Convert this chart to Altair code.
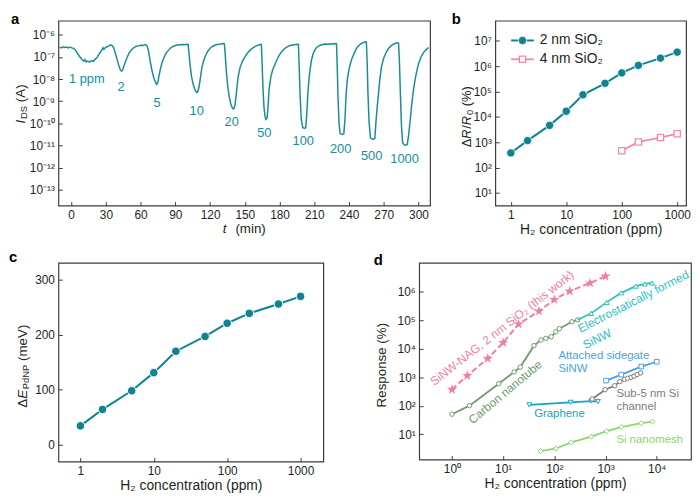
import altair as alt
import pandas as pd

FONT = "Liberation Sans"
INK = "#231f20"
FRAME = "#3d3d3d"
TEAL_A = "#198d97"
TEAL = "#0f8490"
PINK_B = "#f18aa9"
PINK_D = "#f27ea0"
GREEN_CNT = "#6e9c6c"
CYAN_EF = "#2cbfc3"
BLUE_AS = "#4b9fe6"
GRAY_S5 = "#7b7b7b"
TEAL_GR = "#10a5c2"
LGREEN = "#8cd66e"

# ---------------- panel a data ----------------
t_min = [-10, -8.5, -7, -5.5, -4, -2.5, -1, 0.5, 2, 3.5, 5, 6.5, 8, 9.5, 11, 12, 13, 14.5, 16, 17.5, 19, 20.5,
         22, 23.5, 25, 26.5, 27.5, 28.3, 29.5, 31, 32.5, 34, 35,
         36.5, 38, 39.5, 41, 42.5, 43.5, 44.5, 45.5, 47, 48.5, 50, 52, 54, 56, 58, 60, 62, 63.5, 64.5,
         65.5, 66.5, 67.5, 68.5, 70, 71.5, 73, 74, 75, 76, 77.3, 78.5, 80, 82, 84, 86, 88, 90, 92, 94, 96, 98, 100, 101,
         101.8, 102.8, 104, 105.5, 107, 108.3, 109.3, 110.5, 111.8, 113, 114.5, 116, 118, 120, 122, 124, 126, 128, 130, 131.5, 132.3,
         133, 134, 135.2, 136.5, 138, 139.5, 140.5, 141.5, 142.5, 143.5, 144.5, 146, 148, 150, 152, 154, 156, 158, 160, 162, 163.7, 164.3,
         165, 165.8, 166.6, 167.5, 168.3, 169.2, 170, 171, 172.5, 174, 175.5, 177.5, 179.5, 181.5, 184, 186.5, 189, 191.5, 194, 196.3,
         197, 197.8, 198.8, 200, 201.3, 202.6, 203.5, 204.5, 205.5, 206.5, 207.5, 209, 210.5, 212, 214, 216, 218, 220, 222, 224, 226, 228, 229.2,
         229.8, 230.5, 231.4, 232.3, 234, 235.5, 236.5, 237.5, 238.5, 240, 241.5, 243, 245, 247, 249, 251, 253, 254.3, 255,
         255.7, 256.4, 257.3, 258.5, 260.5, 262.3, 263.3, 264.4, 265.4, 266.5, 268, 270, 272, 274, 276, 278, 280, 281.5, 282.8,
         283.6, 284.4, 285.3, 286.3, 288.3, 290.3, 291.5, 292.8, 294, 295.5, 297, 298.5, 300, 302, 304, 306, 308.6]
i_ds = [2.8e-7, 2.6e-7, 2.9e-7, 2.7e-7, 2.8e-7, 2.6e-7, 2.8e-7, 2.6e-7, 2.5e-7, 2.1e-7, 1.6e-7, 1.2e-7, 9.5e-8, 7.5e-8, 6.5e-8, 7.6e-8,
        6.0e-8, 6.6e-8, 5.9e-8, 6.8e-8, 6.4e-8, 7.8e-8, 9.0e-8, 1.2e-7, 1.6e-7, 2.1e-7, 2.6e-7, 2.2e-7, 2.7e-7, 2.9e-7, 3.2e-7, 3.5e-7, 3.4e-7,
        2.8e-7, 1.6e-7, 8.5e-8, 4.5e-8, 2.6e-8, 2.3e-8, 2.6e-8, 3.8e-8, 6.5e-8, 1.0e-7, 1.5e-7, 2.1e-7, 2.6e-7, 3.0e-7, 3.2e-7, 3.4e-7, 3.3e-7, 3.6e-7, 3.6e-7,
        3.2e-7, 2.2e-7, 1.2e-7, 5.5e-8, 2.2e-8, 1.1e-8, 6.8e-9, 5.8e-9, 7.5e-9, 1.5e-8, 3.2e-8, 5.5e-8, 9.0e-8, 1.5e-7, 2.0e-7, 2.6e-7, 3.0e-7, 3.3e-7, 3.5e-7, 3.6e-7, 3.7e-7, 3.6e-7, 3.8e-7, 3.7e-7,
        1.5e-7, 4e-8, 1.3e-8, 5.5e-9, 3.2e-9, 2.5e-9, 2.6e-9, 4.5e-9, 1.3e-8, 3.5e-8, 7e-8, 1.15e-7, 1.8e-7, 2.5e-7, 3.0e-7, 3.4e-7, 3.7e-7, 3.8e-7, 4.0e-7, 4.1e-7, 4.0e-7,
        1.5e-7, 2.5e-8, 5e-9, 1.6e-9, 7e-10, 4.6e-10, 4.5e-10, 6.5e-10, 1.8e-9, 6e-9, 1.5e-8, 3.5e-8, 6.5e-8, 1.0e-7, 1.45e-7, 1.9e-7, 2.4e-7, 2.8e-7, 3.2e-7, 3.5e-7, 3.8e-7, 3.7e-7,
        4e-8, 3e-9, 5e-10, 2e-10, 1.5e-10, 1.7e-10, 5e-10, 3.5e-9, 1.3e-8, 2.6e-8, 4e-8, 7e-8, 1.15e-7, 1.65e-7, 2.3e-7, 2.9e-7, 3.3e-7, 3.5e-7, 3.7e-7, 3.8e-7,
        3e-8, 1.5e-9, 1.5e-10, 6.5e-11, 6e-11, 6.2e-11, 2.5e-10, 2.5e-9, 1.1e-8, 3e-8, 7e-8, 1.4e-7, 2.1e-7, 2.7e-7, 3.2e-7, 3.5e-7, 3.8e-7, 3.9e-7, 3.8e-7, 4.0e-7, 3.9e-7, 4.1e-7, 4.0e-7,
        4e-8, 1.5e-9, 1e-10, 3.5e-11, 3.1e-11, 3.3e-11, 1.5e-10, 2e-9, 9e-9, 2.8e-8, 5.8e-8, 1.0e-7, 1.7e-7, 2.7e-7, 3.5e-7, 4.2e-7, 4.7e-7, 4.9e-7, 4.8e-7,
        5e-8, 2e-9, 1.2e-10, 2.2e-11, 1.9e-11, 2.0e-11, 1.2e-10, 6e-10, 2e-9, 9e-9, 3.5e-8, 9e-8, 1.6e-7, 2.4e-7, 3.1e-7, 3.7e-7, 4.2e-7, 4.4e-7, 4.3e-7,
        5e-8, 2e-9, 8e-11, 1.3e-11, 1.0e-11, 1.1e-11, 3e-11, 1.3e-10, 6e-10, 2.8e-9, 9e-9, 2.3e-8, 4.8e-8, 9.5e-8, 1.5e-7, 2.0e-7, 2.7e-7]
step_labels = ["1 ppm", "2", "5", "10", "20", "50", "100", "200", "500", "1000"]
step_label_t = [13.5, 43.2, 74.1, 108.4, 138.7, 166.8, 200.5, 232.8, 259.5, 288]
step_label_i = [1e-8, 4.4e-9, 8.5e-10, 3.7e-10, 1.17e-10, 3.7e-11, 1.6e-11, 6.8e-12, 3.2e-12, 2.5e-12]

# ---------------- panel b / c data ----------------
conc = [1, 2, 5, 10, 20, 50, 100, 200, 500, 1000]
resp_2nm = [375, 1150, 4600, 16600, 74000, 210000, 540000, 1.07e6, 2.05e6, 3.55e6]
conc_4nm = [100, 200, 500, 1000]
resp_4nm = [455, 1020, 1520, 2150]
de_pdnp = [34, 64, 98, 131, 170, 197, 221, 239, 256, 270]

# ---------------- panel d data ----------------
cnt_x = [1, 2.2, 8.2, 16.4, 21.6, 40, 55, 68, 87, 107, 125, 220, 286]
cnt_y = [51, 102, 600, 1550, 2300, 13000, 20600, 23400, 26700, 39600, 51000, 90000, 105000]
ef_line_x = [286, 525, 1050, 2030, 3900, 5870, 8100]
ef_line_y = [105000, 177000, 430000, 930000, 1.6e6, 1.9e6, 2.06e6]
ef_x = [525, 1050, 2030, 3900, 5870, 8100]
ef_y = [177000, 430000, 930000, 1.6e6, 1.9e6, 2.06e6]
as_x = [1025, 2030, 4990, 10000]
as_y = [770, 1250, 2400, 3540]
s5_x = [550, 980, 1510, 1900, 2350, 2700, 3150, 3600, 4150, 4870]
s5_y = [175, 370, 510, 710, 850, 930, 1000, 1100, 1260, 1440]
gr_x = [32.5, 208, 527, 712]
gr_y = [108, 133, 148, 142]
nm_x = [54, 108, 214, 527, 1050, 2030, 5000, 8300]
nm_y = [2.6, 3.2, 5.2, 8.3, 12.9, 18.1, 24.6, 28]

ann_text = ["SiNW-NAG, 2 nm SiO\u2082 (this work)", "Carbon nanotube", "Electrostatically formed", "SiNW"]
ann_x = [9.5, 11, 3500, 685]
ann_y = [53800, 305, 460000, 22400]
ann_angle = [322, 320, 333, 333]
ann_color = [PINK_D, GREEN_CNT, CYAN_EF, CYAN_EF]
lab_text = ["Attached sidegate", "SiNW", "Sub-5 nm Si", "channel", "Graphene", "Si nanomesh"]
lab_x = [120, 120, 1636, 1636, 40.4, 1636]
lab_y = [5500, 1900, 265, 88, 50, 6.3]
lab_color = [BLUE_AS, BLUE_AS, GRAY_S5, GRAY_S5, TEAL_GR, LGREEN]

STAR = ("M0,-1 L0.2245,-0.309 L0.9511,-0.309 L0.3633,0.118 L0.5878,0.809 L0,0.382 "
        "L-0.5878,0.809 L-0.3633,0.118 L-0.9511,-0.309 L-0.2245,-0.309 Z")

# ---------------- helpers ----------------
SUP = str.maketrans("-0123456789", "\u207b\u2070\u00b9\u00b2\u00b3\u2074\u2075\u2076\u2077\u2078\u2079")


def pow_expr(exps):
    parts = [f"abs(log(datum.value)/LN10 - ({e})) < 0.01 ? '10{str(e).translate(SUP)}'" for e in exps]
    return " : ".join(parts) + " : ''"


def axis(**kw):
    base = dict(domain=False, tickSize=4, offset=-4, tickColor=FRAME, tickWidth=1, labelPadding=4,
                labelFontSize=12, labelColor=INK, labelFont=FONT, grid=False, title=None,
                labelFlush=False, labelOverlap=False)
    base.update(kw)
    return alt.Axis(**base)


CW = {'I': .278, 'D': .722, 'S': .667, ' ': .278, '(': .333, ')': .333, 'A': .667, '\u0394': .668,
      'E': .667, 'P': .667, 'd': .556, 'N': .722, 'm': .833, 'e': .556, 'V': .667, 'R': .722,
      '/': .278, '0': .556, '%': .889, 't': .278, 'i': .222, 'n': .556, 's': .5, 'p': .556, 'o': .556}


def tw(s, size):
    return sum(CW.get(c, .556) for c in s) * size


def one():
    return pd.DataFrame({"k": [0]})


def txt(text, x, y, size=13.5, italic=False, angle=0, align="left", baseline="alphabetic",
        color=INK, weight="normal"):
    kw = dict(text=text, fontSize=size, fontStyle="italic" if italic else "normal", align=align,
              baseline=baseline, font=FONT, color=color, fontWeight=weight)
    if angle:
        kw["angle"] = angle
    return alt.Chart(one()).mark_text(**kw).encode(x=alt.value(x), y=alt.value(y))


def vtitle(parts, x_base, y_center):
    total = sum(tw(t, s) + (0.06 * s if it else 0) for t, s, it, dx in parts)
    y = y_center + total / 2
    out = []
    for t, s, it, dx in parts:
        lead = len(t) - len(t.lstrip())
        out.append(txt(t.strip(), x_base + dx, y - tw(" " * lead, s), size=s, italic=it, angle=270))
        y -= tw(t, s) + (0.06 * s if it else 0)
    return out


def htitle(parts, x_center, y_base):
    total = sum(tw(t, s) + (0.12 * s if it else 0) for t, s, it, dy in parts)
    x = x_center - total / 2
    out = []
    for t, s, it, dy in parts:
        lead = len(t) - len(t.lstrip())
        out.append(txt(t.strip(), x + tw(" " * lead, s), y_base + dy, size=s, italic=it))
        x += tw(t, s) + (0.12 * s if it else 0)
    return out


def panel_label(ch, x, y):
    return txt(ch, x, y, size=15, weight="bold", color="black")


XTITLE = "H\u2082 concentration (ppm)"

# ---------------- panel a ----------------
WA, HA = 376, 187
xa = alt.X("t:Q", scale=alt.Scale(domain=[-11, 310], nice=False, zero=False),
           axis=axis(values=list(range(0, 301, 30))))
ya = alt.Y("i:Q", scale=alt.Scale(type="log", domain=[1.9e-14, 4.4e-6], nice=False),
           axis=axis(values=[10.0 ** e for e in range(-13, -5)], labelExpr=pow_expr(range(-13, -5))))
df_a = pd.DataFrame({"t": t_min, "i": i_ds})
df_alab = pd.DataFrame({"t": step_label_t, "i": step_label_i, "lab": step_labels})
layers_a = [
    alt.Chart(df_a).mark_line(color=TEAL_A, strokeWidth=1.5).encode(x=xa, y=ya),
    alt.Chart(df_alab).mark_text(fontSize=13, color=TEAL_A, font=FONT, baseline="middle").encode(x=xa, y=ya, text="lab:N"),
    panel_label("a", -48, 3),
]
layers_a += vtitle([("I", 13.5, True, 0), ("DS", 9.5, False, 2.5), (" (A)", 13.5, False, 0)], -34, HA * 0.45)
layers_a += htitle([("t", 13.5, True, 0), ("  (min)", 13.5, False, 0)], WA / 2, HA + 28)
panel_a = alt.layer(*layers_a).properties(width=WA, height=HA)

# ---------------- panel b ----------------
WB, HB = 193, 187
xb = alt.X("c:Q", scale=alt.Scale(type="log", domain=[10 ** -0.28, 10 ** 3.16], nice=False),
           axis=axis(values=[1, 10, 100, 1000], format="d", title=XTITLE, titlePadding=2))
yb = alt.Y("r:Q", scale=alt.Scale(type="log", domain=[10 ** 0.5, 10 ** 7.79], nice=False),
           axis=axis(values=[10.0 ** e for e in range(1, 8)], labelExpr=pow_expr(range(1, 8))))
df_b2 = pd.DataFrame({"c": conc, "r": resp_2nm})
df_b4 = pd.DataFrame({"c": conc_4nm, "r": resp_4nm})
layers_b = [
    alt.Chart(df_b4).mark_line(color=PINK_B, strokeWidth=1.8).encode(x=xb, y=yb),
    alt.Chart(df_b4).mark_point(shape="square", filled=True, fill="white", stroke=PINK_B, strokeWidth=1.3,
                                size=40, opacity=1).encode(x=xb, y=yb),
    alt.Chart(df_b2).mark_line(color=TEAL, strokeWidth=2).encode(x=xb, y=yb),
    alt.Chart(df_b2).mark_point(shape="circle", filled=True, fill=TEAL, stroke="white", strokeWidth=0.8,
                                size=70, opacity=1).encode(x=xb, y=yb),
    # legend
    alt.Chart(one()).mark_rule(color=TEAL, strokeWidth=2).encode(x=alt.value(16), x2=alt.value(39), y=alt.value(20)),
    alt.Chart(one()).mark_point(shape="circle", filled=True, fill=TEAL, stroke="white", strokeWidth=0.8,
                                size=70, opacity=1).encode(x=alt.value(27.5), y=alt.value(20)),
    txt("2 nm SiO\u2082", 45, 20, size=14, baseline="middle"),
    alt.Chart(one()).mark_rule(color=PINK_B, strokeWidth=1.8).encode(x=alt.value(16), x2=alt.value(39), y=alt.value(39)),
    alt.Chart(one()).mark_point(shape="square", filled=True, fill="white", stroke=PINK_B, strokeWidth=1.3,
                                size=40, opacity=1).encode(x=alt.value(27.5), y=alt.value(39)),
    txt("4 nm SiO\u2082", 45, 39, size=14, baseline="middle"),
    panel_label("b", -44, 3),
]
layers_b += vtitle([("\u0394", 13, False, 0), ("R", 13, True, 0), ("/", 13, False, 0), ("R", 13, True, 0),
                    ("0", 9.5, False, 2.5), (" (%)", 13, False, 0)], -25, HB * 0.52)
panel_b = alt.layer(*layers_b).properties(width=WB, height=HB)

# ---------------- panel c ----------------
WC, HC = 268, 201
xc = alt.X("c:Q", scale=alt.Scale(type="log", domain=[10 ** -0.30, 10 ** 3.31], nice=False),
           axis=axis(values=[1, 10, 100, 1000], format="d", title=XTITLE, titlePadding=2))
yc = alt.Y("e:Q", scale=alt.Scale(domain=[-31, 331], nice=False, zero=False),
           axis=axis(values=[0, 100, 200, 300]))
df_c = pd.DataFrame({"c": conc, "e": de_pdnp})
layers_c = [
    alt.Chart(df_c).mark_line(color=TEAL, strokeWidth=2).encode(x=xc, y=yc),
    alt.Chart(df_c).mark_point(shape="circle", filled=True, fill=TEAL, stroke="white", strokeWidth=1,
                               size=75, opacity=1).encode(x=xc, y=yc),
    panel_label("c", -50, -1),
]
layers_c += vtitle([("\u0394", 13.5, False, 0), ("E", 13.5, True, 0), ("PdNP", 9.5, False, 2.5),
                    (" (meV)", 13.5, False, 0)], -32, HC * 0.52)
panel_c = alt.layer(*layers_c).properties(width=WC, height=HC)

# ---------------- panel d ----------------
WD, HD = 275, 199
xd = alt.X("x:Q", scale=alt.Scale(type="log", domain=[10 ** -0.64, 10 ** 4.67], nice=False),
           axis=axis(values=[1, 10, 100, 1000, 10000], labelExpr=pow_expr(range(0, 5)), title=XTITLE, titlePadding=2))
yd = alt.Y("y:Q", scale=alt.Scale(type="log", domain=[10 ** 0.115, 10 ** 7.02], nice=False),
           axis=axis(values=[10.0 ** e for e in range(1, 7)], labelExpr=pow_expr(range(1, 7))))


def series(xs, ys, color, shape, size=22, width=1.8, dash=None, filled_marker=False, line_xs=None, line_ys=None):
    dfp = pd.DataFrame({"x": xs, "y": ys})
    dfl = dfp if line_xs is None else pd.DataFrame({"x": line_xs, "y": line_ys})
    lkw = dict(color=color, strokeWidth=width)
    if dash:
        lkw["strokeDash"] = dash
    out = [alt.Chart(dfl).mark_line(**lkw).encode(x=xd, y=yd)]
    if filled_marker:
        out.append(alt.Chart(dfp).mark_point(shape=shape, filled=True, fill=color, strokeWidth=0,
                                             size=size, opacity=1).encode(x=xd, y=yd))
    else:
        out.append(alt.Chart(dfp).mark_point(shape=shape, filled=True, fill="white", stroke=color,
                                             strokeWidth=1, size=size, opacity=1).encode(x=xd, y=yd))
    return out


layers_d = []
layers_d += series(nm_x, nm_y, LGREEN, "diamond", size=26)
layers_d += series(gr_x, gr_y, TEAL_GR, "triangle-down", size=24)
layers_d += series(s5_x, s5_y, GRAY_S5, "circle", size=20)
layers_d += series(as_x, as_y, BLUE_AS, "square", size=22)
layers_d += series(cnt_x, cnt_y, GREEN_CNT, "circle", size=20)
layers_d += series(ef_x, ef_y, CYAN_EF, "triangle-up", size=24, line_xs=ef_line_x, line_ys=ef_line_y)
layers_d += series(conc, resp_2nm, PINK_D, STAR, size=120, width=2, dash=[6, 3], filled_marker=True)
for t, x, y, a, c in zip(ann_text, ann_x, ann_y, ann_angle, ann_color):
    layers_d.append(alt.Chart(pd.DataFrame({"x": [x], "y": [y], "lab": [t]})).mark_text(
        fontSize=12, color=c, font=FONT, angle=a, align="center", baseline="middle").encode(x=xd, y=yd, text="lab:N"))
df_lab = pd.DataFrame({"x": lab_x, "y": lab_y, "lab": lab_text, "col": lab_color})
layers_d.append(alt.Chart(df_lab).mark_text(fontSize=11.5, font=FONT, align="left", baseline="middle").encode(
    x=xd, y=yd, text="lab:N", color=alt.Color("col:N", scale=None)))
layers_d.append(panel_label("d", -46, 2))
layers_d.append(txt("Response (%)", -34, HD * 0.52, size=13.5, angle=270, align="center"))
panel_d = alt.layer(*layers_d).properties(width=WD, height=HD)

top = alt.hconcat(panel_a, panel_b, spacing=19)
bottom = alt.hconcat(panel_c, panel_d, spacing=49)
chart = alt.vconcat(top, bottom, spacing=12).properties(
    padding={"left": 0, "top": 0, "right": 0, "bottom": 0}
).configure(font=FONT).configure_view(stroke=FRAME, strokeWidth=1.2).configure_axis(
    titleFont=FONT, titleFontSize=14, titleFontWeight="normal", titleColor=INK, labelFont=FONT)

chart.save("out.html", embed_options={"renderer": "svg", "actions": False})
